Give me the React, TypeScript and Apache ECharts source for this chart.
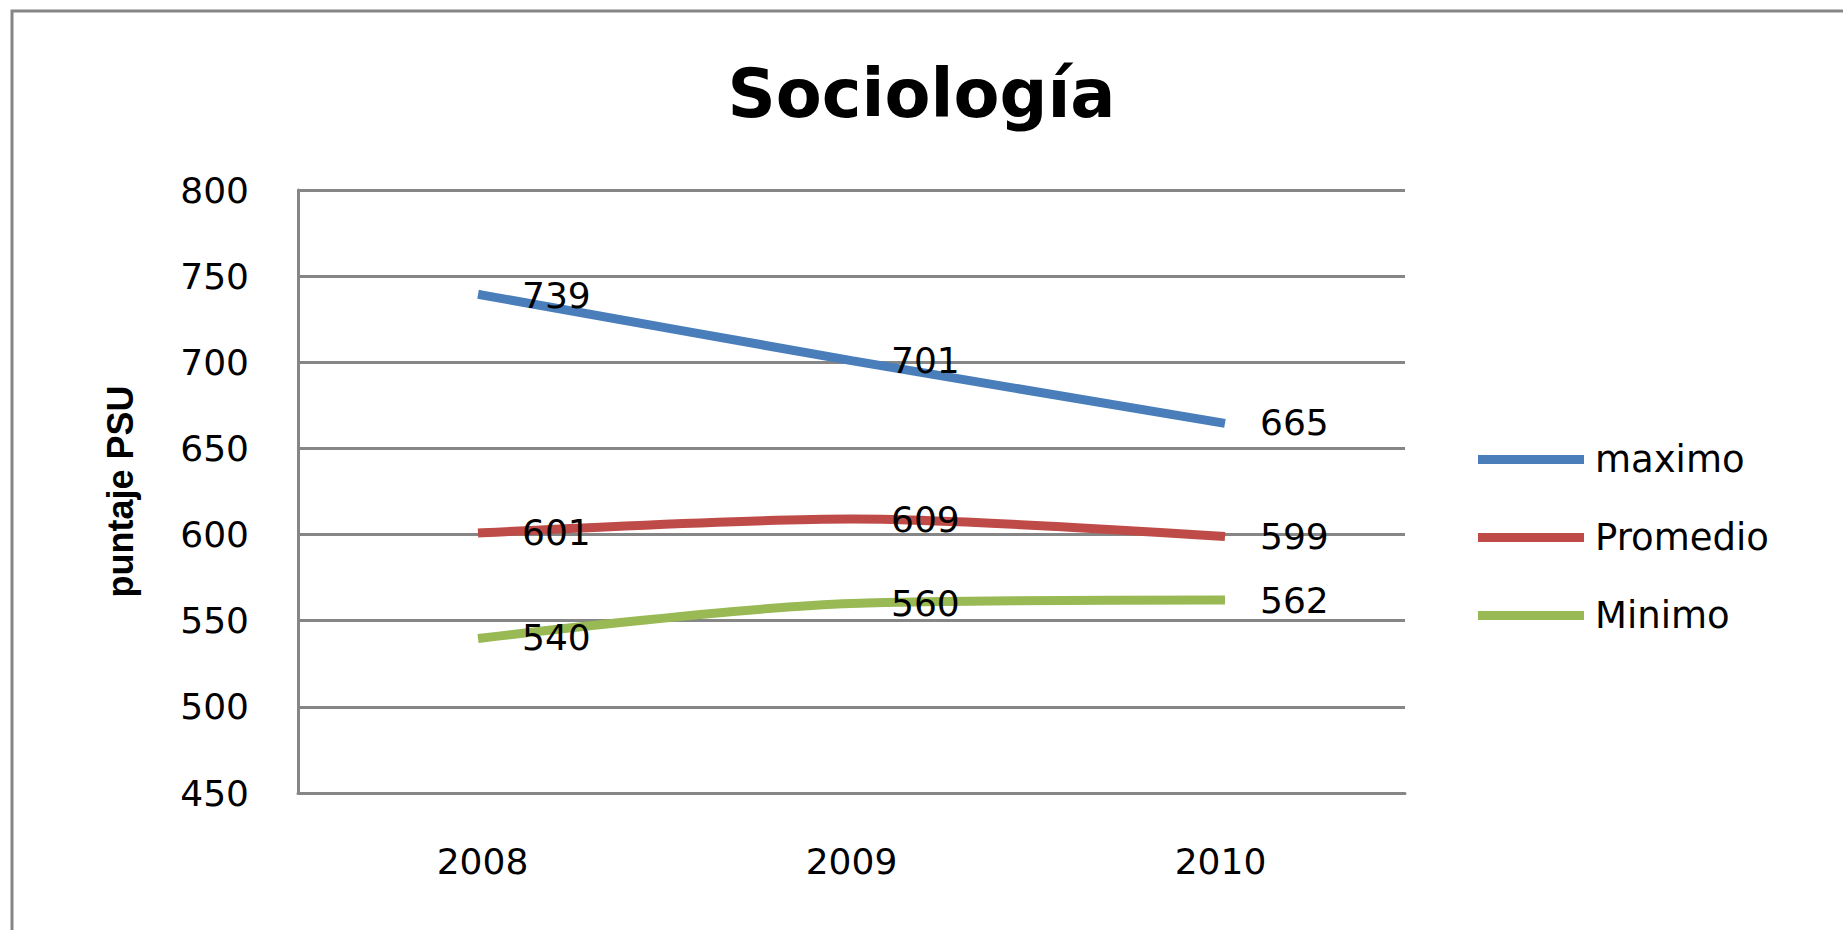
import React, { useEffect, useRef } from "react";
import * as echarts from "echarts";

const years = ["2008", "2009", "2010"];
const maximo = [739, 701, 665];
const promedio = [601, 609, 599];
const minimo = [540, 560, 562];
const seriesNames = ["maximo", "Promedio", "Minimo"];
const seriesColors = ["#4A7EBB", "#BE4B48", "#98B954"];
const titleText = "Sociología";
const yAxisName = "puntaje PSU";

export default function App() {
  const ref = useRef<HTMLDivElement>(null);
  useEffect(() => {
    if (!ref.current) return;
    const chart = echarts.init(ref.current, undefined, { renderer: "svg" });
    const data = [maximo, promedio, minimo];
    const labelFont = { fontFamily: "DejaVu Sans", fontSize: 36, color: "#000" };
    chart.setOption({
      animation: false,
      backgroundColor: "#fff",
      title: {
        text: titleText,
        left: "center",
        top: 60,
        padding: 0,
        textStyle: { fontFamily: "DejaVu Sans", fontWeight: "bold", fontSize: 67, color: "#000" },
      },
      graphic: [
        {
          type: "rect",
          shape: { x: 12, y: 11, width: 2000, height: 1200 },
          style: { fill: "none", stroke: "#868686", lineWidth: 3 },
          silent: true,
          z: 100,
        },
      ],
      grid: { left: 298, right: 438, top: 190, bottom: 137, containLabel: false },
      legend: {
        orient: "vertical",
        left: 1478,
        top: 441,
        icon: "rect",
        itemWidth: 106,
        itemHeight: 9,
        itemGap: 41,
        padding: 0,
        data: seriesNames,
        textStyle: { ...labelFont, fontSize: 37, lineHeight: 36, padding: [0, 0, 0, 6] },
      },
      xAxis: {
        type: "category",
        data: years,
        boundaryGap: true,
        axisLine: { show: true, lineStyle: { color: "#868686", width: 3 } },
        axisTick: { show: false },
        axisLabel: { ...labelFont, margin: 50 },
        splitLine: { show: false },
      },
      yAxis: {
        type: "value",
        min: 450,
        max: 800,
        interval: 50,
        name: yAxisName,
        nameLocation: "middle",
        nameGap: 160,
        nameTextStyle: { fontFamily: "Liberation Sans", fontWeight: "bold", fontSize: 36, color: "#000" },
        axisLine: { show: true, lineStyle: { color: "#868686", width: 3 } },
        axisTick: { show: false },
        axisLabel: { ...labelFont, margin: 49 },
        splitLine: { show: true, lineStyle: { color: "#868686", width: 3 } },
      },
      series: seriesNames.map((name, i) => ({
        name,
        type: "line",
        data: data[i],
        smooth: 0.3,
        symbol: "circle",
        symbolSize: 1,
        showSymbol: true,
        color: seriesColors[i],
        itemStyle: { color: seriesColors[i] },
        lineStyle: { width: 9, color: seriesColors[i], cap: "square" },
        label: {
          show: true,
          position: "right",
          distance: 39,
          ...labelFont,
        },
        emphasis: { disabled: true },
      })),
    });
    return () => chart.dispose();
  }, []);
  return (
    <div
      ref={ref}
      style={{ position: "fixed", left: 0, top: 0, width: 1843, height: 930, background: "#fff" }}
    />
  );
}
